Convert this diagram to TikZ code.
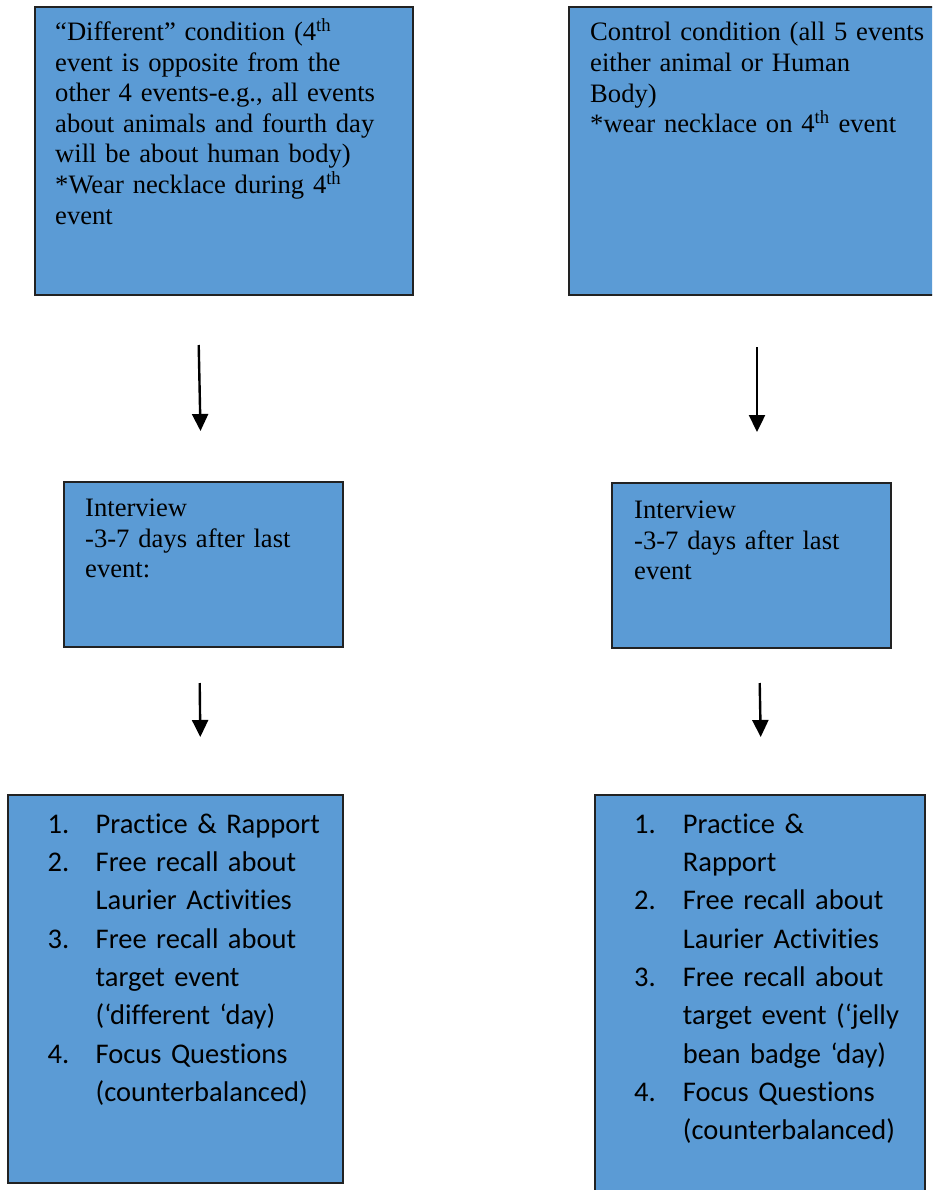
\documentclass[tikz,border=0pt]{standalone}
\usepackage{fontspec}
\setmainfont{Liberation Serif}
\newfontfamily\calibrifont[Ligatures=NoCommon]{Carlito}
\usetikzlibrary{arrows.meta}
\definecolor{boxblue}{HTML}{5B9BD5}
\definecolor{boxedge}{HTML}{222222}
\begin{document}
\begin{tikzpicture}[x=1pt,y=-1pt,
  box/.style={draw=boxedge, line width=1.4pt, fill=boxblue, inner sep=0pt, outer sep=0pt, anchor=north west},
  serif/.style={anchor=base west, inner sep=0pt, text width=420pt, align=left, font=\fontsize{26.6}{30.6}\selectfont},
  sans/.style={anchor=base west, inner sep=0pt, text width=300pt, align=left, font=\calibrifont\fontsize{28.5}{38.3}\selectfont},
  arr/.style={line width=2.4pt, -{Triangle[length=17pt,width=16pt]}}]
\useasboundingbox (0,0) rectangle (932,1190);
\clip (0,0) rectangle (932,1190);
\fill[white] (0,0) rectangle (932,1190);
% boxes
\node[box, minimum width=378pt, minimum height=288pt] (b1) at (35,7) {};
\node[box, minimum width=380pt, minimum height=288pt] (b2) at (569,7) {};
\node[box, minimum width=279pt, minimum height=165pt] (b3) at (64,482) {};
\node[box, minimum width=279pt, minimum height=165pt] (b4) at (612,483) {};
\node[box, minimum width=335pt, minimum height=388pt] (b5) at (8,795) {};
\node[box, minimum width=330pt, minimum height=410pt] (b6) at (595,795) {};
% texts
\node[serif] (t1) at (55,40.5) {“Different” condition (4\textsuperscript{th}\\
event is opposite from the\\
other 4 events-e.g., all events\\
about animals and fourth day\\
will be about human body)\\
{*}Wear necklace during 4\textsuperscript{th}\\
event};
\node[serif] (t2) at (590,41) {Control condition (all 5 events\\
either animal or Human\\
Body)\\
{*}wear necklace on 4\textsuperscript{th} event};
\node[serif] (t3) at (85,516.5) {Interview\\
-3-7 days after last\\
event:};
\node[serif] (t4) at (634,518.5) {Interview\\
-3-7 days after last\\
event};
\node[sans] (n5) at (47.5,833.3) {1.\\ 2.\\ \mbox{}\\ 3.\\ \mbox{}\\ \mbox{}\\ 4.};
\node[sans] (l5) at (95.5,833.3) {Practice \& Rapport\\
Free recall about\\
Laurier Activities\\
Free recall about\\
target event\\
(‘different ‘day)\\
Focus Questions\\
(counterbalanced)};
\node[sans] (n6) at (634,833.3) {1.\\ \mbox{}\\ 2.\\ \mbox{}\\ 3.\\ \mbox{}\\ \mbox{}\\ 4.};
\node[sans] (l6) at (682.7,833.3) {Practice \&\\
Rapport\\
Free recall about\\
Laurier Activities\\
Free recall about\\
target event (‘jelly\\
bean badge ‘day)\\
Focus Questions\\
(counterbalanced)};
% arrows
\coordinate (a1s) at (198.7,345);
\coordinate (a1e) at (200.5,431);
\coordinate (a2s) at (757,347);
\coordinate (a2e) at (757,432);
\coordinate (a3s) at (199.7,683);
\coordinate (a3e) at (200.3,737);
\coordinate (a4s) at (759.7,683);
\coordinate (a4e) at (760.7,737);
\draw[arr] (a1s) -- (a1e);
\draw[arr] (a2s) -- (a2e);
\draw[arr] (a3s) -- (a3e);
\draw[arr] (a4s) -- (a4e);
\end{tikzpicture}
\end{document}
